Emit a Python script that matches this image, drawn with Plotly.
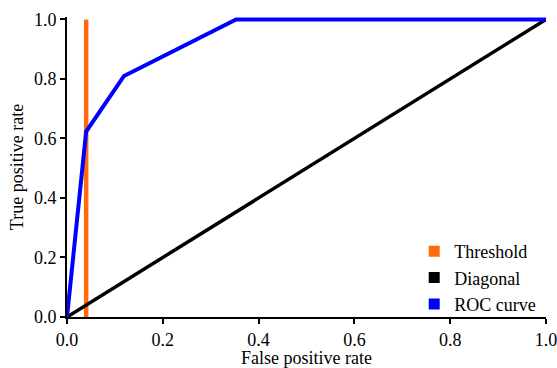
import plotly.graph_objects as go

roc_fpr = [0.0, 0.04, 0.119, 0.353, 1.0]
roc_tpr = [0.0, 0.623, 0.81, 1.0, 1.0]
diag_x = [0.0, 1.0]
diag_y = [0.0, 1.0]
thr_x = [0.04, 0.04]
thr_y = [0.0, 1.0]
tick_vals = [0.0, 0.2, 0.4, 0.6, 0.8, 1.0]
tick_text = ["0.0", "0.2", "0.4", "0.6", "0.8", "1.0"]

orange = "#FF6A0D"
font = dict(family="Liberation Serif", size=18, color="black")
legend_font = dict(family="Liberation Serif", size=18, color="black")

fig = go.Figure()
fig.add_trace(go.Scatter(x=thr_x, y=thr_y, mode="lines", line=dict(color=orange, width=4.5), showlegend=False))
fig.add_trace(go.Scatter(x=diag_x, y=diag_y, mode="lines", line=dict(color="black", width=3.5), showlegend=False))
fig.add_trace(go.Scatter(x=roc_fpr, y=roc_tpr, mode="lines", line=dict(color="#0000FF", width=4), showlegend=False))

for name, col in [("Threshold", orange), ("Diagonal", "black"), ("ROC curve", "#0000FF")]:
    fig.add_trace(go.Scatter(x=[None], y=[None], mode="markers", name=name,
                             marker=dict(symbol="square", size=11, color=col)))

axis_common = dict(showline=True, linecolor="black", linewidth=2, ticks="outside",
                   ticklen=5, tickwidth=2, tickcolor="black", showgrid=False, zeroline=False,
                   tickvals=tick_vals, ticktext=tick_text, tickfont=font, title_font=font,
                   automargin=False, ticklabeloverflow="allow")

fig.update_layout(
    width=557, height=368,
    margin=dict(l=67, r=11, t=17, b=51),
    paper_bgcolor="white", plot_bgcolor="white",
    font=font,
    xaxis=dict(range=[0, 1.0], title=dict(text="False positive rate", standoff=4), **axis_common),
    yaxis=dict(range=[0, 1.008], title=dict(text="True positive rate", standoff=6), **axis_common),
    legend=dict(x=0.99, y=-0.02, xanchor="right", yanchor="bottom", bgcolor="rgba(0,0,0,0)",
                font=legend_font, itemwidth=30, tracegroupgap=0),
)

fig.write_html("out.html")
